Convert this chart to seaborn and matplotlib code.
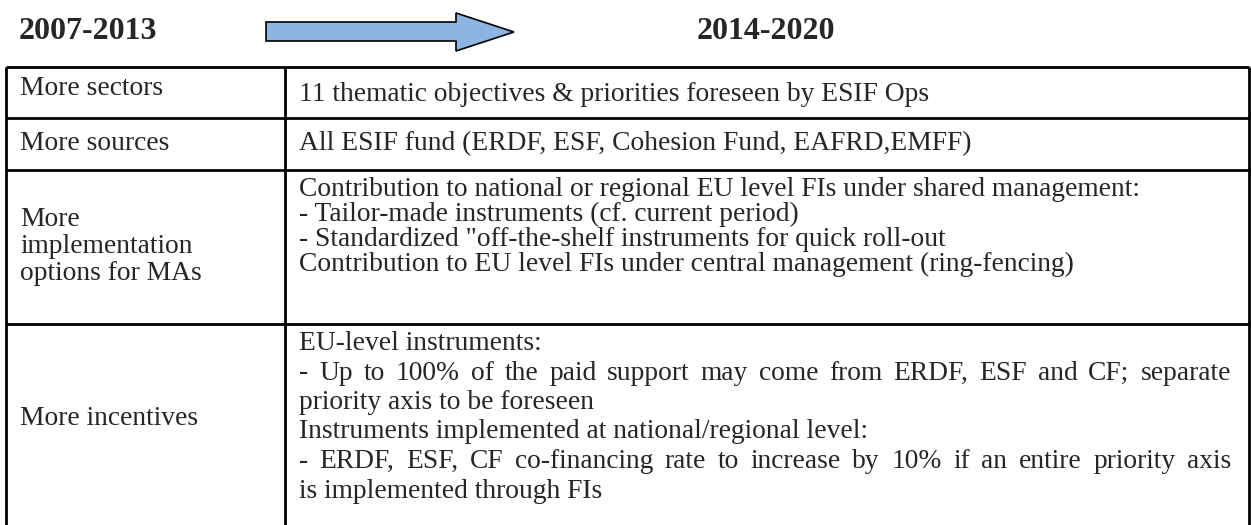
import matplotlib
matplotlib.use("Agg")
import matplotlib.pyplot as plt
from matplotlib.patches import Polygon
import seaborn as sns

# period headers
periods = ["2007-2013", "2014-2020"]

# left column: what changes
row_labels = [
    ["More sectors"],
    ["More sources"],
    ["More", "implementation", "options for MAs"],
    ["More incentives"],
]

# right column: details, line by line
row_details = [
    ["11 thematic objectives & priorities foreseen by ESIF Ops"],
    ["All ESIF fund (ERDF, ESF, Cohesion Fund, EAFRD,EMFF)"],
    ["Contribution to national or regional EU level FIs under shared management:",
     "- Tailor-made instruments (cf. current period)",
     "- Standardized \"off-the-shelf instruments for quick roll-out",
     "Contribution to EU level FIs under central management (ring-fencing)"],
    ["EU-level instruments:",
     "- Up to 100% of the paid support may come from ERDF, ESF and CF; separate",
     "priority axis to be foreseen",
     "Instruments implemented at national/regional level:",
     "- ERDF, ESF, CF co-financing rate to increase by 10% if an entire priority axis",
     "is implemented through FIs"],
]
# lines stretched to the full cell width (justified paragraph)
justified = {(3, 1), (3, 4)}

sns.set_theme(style="white")
plt.rcParams["font.family"] = ["Liberation Serif", "DejaVu Serif"]

W, H = 1251, 525
fig = plt.figure(figsize=(W / 100, H / 100), dpi=100)
ax = fig.add_axes([0, 0, 1, 1])
ax.set_xlim(0, W)
ax.set_ylim(H, 0)
ax.axis("off")
renderer = fig.canvas.get_renderer()

# headers
ax.text(19, 39, periods[0], fontsize=23, fontweight="bold", va="baseline", ha="left")
ax.text(697, 39, periods[1], fontsize=23, fontweight="bold", va="baseline", ha="left")

# arrow
arrow = Polygon([(266, 22), (456, 22), (456, 13), (514, 32), (456, 51), (456, 41), (266, 41)],
                closed=True, facecolor="#8EB4E3", edgecolor="black", lw=1.2)
ax.add_patch(arrow)

# table grid
row_edges = [67, 118, 170, 324, 530]
x_left, x_mid, x_right = 6, 285, 1249
ax.hlines(row_edges[:-1], x_left, x_right, color="black", lw=2)
ax.vlines([x_left, x_mid, x_right], row_edges[0], row_edges[-1], color="black", lw=2)

fs = 19.8
text_x, text_end = 299, 1231
left_base = [95, 150, 226, 425]
right_base = [101, 150, 196, 350]
right_step = [25, 25, 25, 29.5]


def justify(s, y):
    words = s.split(" ")
    arts = [ax.text(0, y, w, fontsize=fs, va="baseline", ha="left") for w in words]
    widths = [a.get_window_extent(renderer).width for a in arts]
    gap = (text_end - text_x - sum(widths)) / (len(words) - 1)
    x = text_x
    for a, w in zip(arts, widths):
        a.set_x(x)
        x += w + gap


for r, (labels, details) in enumerate(zip(row_labels, row_details)):
    for i, s in enumerate(labels):
        ax.text(20, left_base[r] + i * 27, s, fontsize=fs, va="baseline", ha="left")
    for i, s in enumerate(details):
        y = right_base[r] + i * right_step[r]
        if (r, i) in justified:
            justify(s, y)
        else:
            ax.text(text_x, y, s, fontsize=fs, va="baseline", ha="left")

fig.savefig("out.png", dpi=100)
